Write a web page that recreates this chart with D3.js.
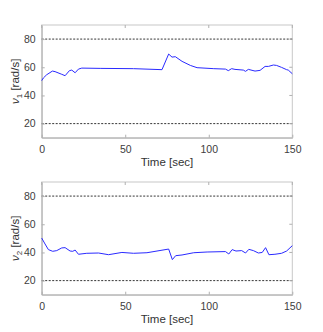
<!DOCTYPE html>
<html>
<head>
<meta charset="utf-8">
<script src="https://cdn.jsdelivr.net/npm/d3@7"></script>
<style>
  body { margin: 0; background: #fff; }
  text { font-family: "Liberation Sans", Arial, sans-serif; }
</style>
</head>
<body>
<script>
// time samples and speeds
const t1 = [0, 1, 3, 6.4, 8, 12, 14, 16.6, 18, 20, 22, 24, 35, 55, 72, 76, 78, 80, 84, 89, 93, 103, 110, 111.7, 113.7, 115.7, 120.7, 122, 123.7, 127.7, 130.7, 133.7, 135.7, 138.7, 140.6, 143.6, 146.6, 147.6, 150];
const v1 = [50.5, 52.4, 54.7, 57.3, 56.9, 55, 54, 57.6, 58, 56.1, 58.7, 59.4, 59.2, 59, 58.3, 69.4, 67.2, 67.5, 64.2, 61.3, 59.7, 59, 58.7, 57.6, 59, 58.5, 58, 57.1, 58.5, 57.3, 57.8, 60.6, 60.6, 61.6, 61.3, 59.9, 58.3, 58, 55.4];
const t2 = [0, 2, 4, 6.6, 9, 12, 14, 17, 18.6, 20, 22, 27, 34, 40, 48, 55, 63, 76, 78.2, 80.2, 84, 91, 99, 110, 112, 114, 116.3, 119.7, 122, 124, 126.7, 129.7, 132, 134, 136, 139.6, 143.6, 146.6, 150];
const v2 = [50.2, 46, 42, 40.8, 41.3, 43.2, 43.4, 41, 40.8, 41.7, 38.7, 39.4, 39.6, 38.4, 40, 39.4, 39.8, 42.4, 34.9, 37.7, 38.2, 39.8, 40.3, 40.6, 38.9, 42, 41, 41.3, 39.6, 42.2, 41.3, 39.6, 40, 43.4, 38.4, 38.7, 39.4, 41, 44.8];
const limits = [20, 80];
const xTicks = [0, 50, 100, 150];
const yTicks = [20, 40, 60, 80];

const svg = d3.select("body").append("svg")
    .attr("width", 323)
    .attr("height", 332);

function panel(top, times, speeds, idx) {
    const x = d3.scaleLinear().domain([0, 150]).range([41.7, 292.3]);
    const y = d3.scaleLinear().domain([10, 90]).range([top + 112.7, top]);
    const g = svg.append("g");

    // box
    g.append("rect")
        .attr("x", x(0)).attr("y", y(90))
        .attr("width", x(150) - x(0)).attr("height", y(10) - y(90))
        .attr("fill", "#fff").attr("stroke", "#c8c8c8").attr("stroke-width", 1);

    // limit lines
    g.selectAll("line.lim").data(limits).enter().append("line")
        .attr("class", "lim")
        .attr("x1", x(0)).attr("x2", x(150))
        .attr("y1", d => y(d)).attr("y2", d => y(d))
        .attr("stroke", "#000").attr("stroke-width", 0.8)
        .attr("stroke-dasharray", "2,1.5");

    const xAxis = d3.axisBottom(x).tickValues(xTicks).tickSizeInner(-3).tickSizeOuter(0).tickPadding(8);
    const yAxis = d3.axisLeft(y).tickValues(yTicks).tickSizeInner(-3).tickSizeOuter(0).tickPadding(6);
    const xa = g.append("g").attr("transform", `translate(0,${y(10)})`).call(xAxis);
    const ya = g.append("g").attr("transform", `translate(${x(0)},0)`).call(yAxis);
    [xa, ya].forEach(a => {
        a.select(".domain").attr("stroke", "#b0b0b0");
        a.selectAll(".tick line").attr("stroke", "#b0b0b0");
        a.selectAll(".tick text").attr("fill", "#404040")
            .style("font-size", "10.5px").style("font-family", "Liberation Sans, Arial, sans-serif");
    });
    // ticks on right/top sides too
    g.selectAll("line.rt").data(yTicks).enter().append("line")
        .attr("x1", x(150)).attr("x2", x(150) - 3)
        .attr("y1", d => y(d)).attr("y2", d => y(d))
        .attr("stroke", "#b0b0b0");
    g.selectAll("line.tt").data(xTicks).enter().append("line")
        .attr("x1", d => x(d)).attr("x2", d => x(d))
        .attr("y1", y(90)).attr("y2", y(90) + 3)
        .attr("stroke", "#b0b0b0");

    const line = d3.line().x((d, i) => x(times[i])).y(d => y(d));
    g.append("path").datum(speeds)
        .attr("d", line)
        .attr("fill", "none").attr("stroke", "#2a2aff").attr("stroke-width", 1);

    g.append("text")
        .attr("x", (x(0) + x(150)) / 2).attr("y", y(10) + 28.5)
        .attr("text-anchor", "middle").attr("fill", "#333")
        .style("font-size", "11.5px")
        .text("Time [sec]");

    const yl = g.append("text")
        .attr("transform", `translate(19,${(y(10) + y(90)) / 2}) rotate(-90)`)
        .attr("text-anchor", "middle").attr("fill", "#333")
        .style("font-size", "11.5px");
    yl.append("tspan").style("font-style", "italic").text("\u03bd");
    yl.append("tspan").attr("dy", 3).style("font-size", "8px").text(idx);
    yl.append("tspan").attr("dy", -3).text(" [rad/s]");
}

panel(25, t1, v1, "1");
panel(182, t2, v2, "2");
</script>
</body>
</html>
